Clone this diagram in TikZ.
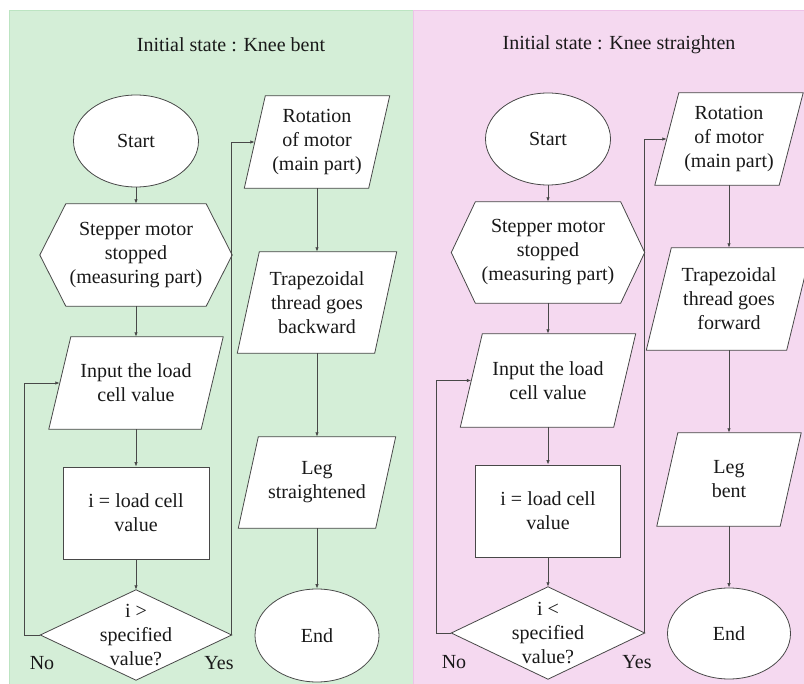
\documentclass[tikz,border=0pt]{standalone}
\usepackage{fontspec}
\setmainfont{Liberation Serif}
\newfontfamily\tnrfont{Liberation Serif}
\usetikzlibrary{shapes.geometric,arrows.meta,backgrounds}
\definecolor{pgreen}{RGB}{212,238,215}
\definecolor{pgreenb}{RGB}{188,228,194}
\definecolor{ppink}{RGB}{245,217,240}
\definecolor{ppinkb}{RGB}{238,194,232}
\definecolor{lnc}{RGB}{72,72,72}
\definecolor{txt}{RGB}{25,25,25}
\tikzset{
  lbl/.style={font=\tnrfont\fontsize{20}{24}\selectfont, text=txt, align=center, inner sep=0pt},
  term/.style={lbl, ellipse, draw=lnc, fill=white, line width=0.8pt},
  proc/.style={lbl, rectangle, draw=lnc, fill=white, line width=0.8pt},
  frame/.style={lbl, rectangle},
  outl/.style={draw=lnc, fill=white, line width=0.8pt, line join=miter},
  conn/.style={draw=lnc, line width=0.8pt, -{Latex[length=4.5pt,width=3.5pt]}},
}
\begin{document}
\begin{tikzpicture}[x=1pt,y=-1pt]
\useasboundingbox (0,0) rectangle (804,684);
\clip (0,0) rectangle (804,684);

% ---------------- left panel ----------------
\node[lbl] (title1) at (231,45) {Initial state : Knee bent};
\node[term, minimum width=125pt, minimum height=92pt] (start1) at (136,141) {Start};
\node[frame, minimum width=192pt, minimum height=102pt] (hex1) at (136,255) {Stepper motor\\stopped\\(measuring part)};
\node[frame, minimum width=174pt, minimum height=92pt] (in1) at (136,383) {Input the load\\cell value};
\node[proc, minimum width=146pt, minimum height=92pt] (rect1) at (136,513) {i = load cell\\value};
\node[frame, minimum width=191pt, minimum height=90pt] (dia1) at (136,635) {i >\\specified\\value?};
\node[frame, minimum width=145pt, minimum height=92pt] (rot1) at (317,142) {Rotation\\of motor\\(main part)};
\node[frame, minimum width=159pt, minimum height=101pt] (trap1) at (317,302.5) {Trapezoidal\\thread goes\\backward};
\node[frame, minimum width=157pt, minimum height=91pt] (leg1) at (317,482.5) {Leg\\straightened};
\node[term, minimum width=124pt, minimum height=93pt] (end1) at (317,635.5) {End};
\node[lbl] (nolbl1) at (42,663) {No};
\node[lbl] (yeslbl1) at (219,663) {Yes};

\coordinate (in1l) at ([xshift=11pt]in1.west);
\coordinate (rot1l) at ([xshift=10.5pt]rot1.west);
\coordinate (no1) at (24,635);

\draw[conn] (start1) -- (hex1);
\draw[conn] (hex1) -- (in1);
\draw[conn] (in1) -- (rect1);
\draw[conn] (rect1) -- (dia1);
\draw[conn] (dia1.west) -- (no1) |- (in1l);
\draw[conn] (dia1.east) |- (rot1l);
\draw[conn] (rot1) -- (trap1);
\draw[conn] (trap1) -- (leg1);
\draw[conn] (leg1) -- (end1);

% ---------------- right panel ----------------
\node[lbl] (title2) at (619,45) {Initial state : Knee straighten};
\node[term, minimum width=125pt, minimum height=92pt] (start2) at (548,139) {Start};
\node[frame, minimum width=193pt, minimum height=101pt] (hex2) at (548,252.5) {Stepper motor\\stopped\\(measuring part)};
\node[frame, minimum width=175pt, minimum height=93pt] (in2) at (548,380.5) {Input the load\\cell value};
\node[proc, minimum width=145pt, minimum height=92pt] (rect2) at (548,511) {i = load cell\\value};
\node[frame, minimum width=193pt, minimum height=92pt] (dia2) at (548,633) {i <\\specified\\value?};
\node[frame, minimum width=148pt, minimum height=92pt] (rot2) at (729,139) {Rotation\\of motor\\(main part)};
\node[frame, minimum width=165pt, minimum height=102pt] (trap2) at (729,299) {Trapezoidal\\thread goes\\forward};
\node[frame, minimum width=144pt, minimum height=93pt] (leg2) at (729,479.5) {Leg\\bent};
\node[term, minimum width=123pt, minimum height=91pt] (end2) at (729,633.5) {End};
\node[lbl] (nolbl2) at (454,662) {No};
\node[lbl] (yeslbl2) at (637,662) {Yes};

\coordinate (in2l) at ([xshift=11pt]in2.west);
\coordinate (rot2l) at ([xshift=12pt]rot2.west);
\coordinate (no2) at (436,633);

\draw[conn] (start2) -- (hex2);
\draw[conn] (hex2) -- (in2);
\draw[conn] (in2) -- (rect2);
\draw[conn] (rect2) -- (dia2);
\draw[conn] (dia2.west) -- (no2) |- (in2l);
\draw[conn] (dia2.east) |- (rot2l);
\draw[conn] (rot2) -- (trap2);
\draw[conn] (trap2) -- (leg2);
\draw[conn] (leg2) -- (end2);

% ---------------- background: panels and outlines ----------------
\begin{scope}[on background layer]
  \fill[pgreen] (9,10) rectangle (413,684);
  \draw[pgreenb, line width=1pt] (9.5,684) -- (9.5,10.5) -- (413,10.5);
  \fill[ppink] (413,10) rectangle (804,684);
  \draw[ppinkb, line width=1pt] (413,10.5) -- (804,10.5);
  \draw[ppinkb, line width=0.6pt] (413.3,10) -- (413.3,684);

  % hexagons
  \draw[outl] (hex1.west) -- ([xshift=26pt]hex1.north west) -- ([xshift=-26pt]hex1.north east)
     -- (hex1.east) -- ([xshift=-26pt]hex1.south east) -- ([xshift=26pt]hex1.south west) -- cycle;
  \draw[outl] (hex2.west) -- ([xshift=24pt]hex2.north west) -- ([xshift=-24pt]hex2.north east)
     -- (hex2.east) -- ([xshift=-24pt]hex2.south east) -- ([xshift=24pt]hex2.south west) -- cycle;
  % diamonds
  \draw[outl] (dia1.north) -- (dia1.east) -- (dia1.south) -- (dia1.west) -- cycle;
  \draw[outl] (dia2.north) -- (dia2.east) -- (dia2.south) -- (dia2.west) -- cycle;
  % parallelograms
  \draw[outl] (in1.south west) -- ([xshift=-22pt]in1.south east) -- (in1.north east) -- ([xshift=22pt]in1.north west) -- cycle;
  \draw[outl] (rot1.south west) -- ([xshift=-21pt]rot1.south east) -- (rot1.north east) -- ([xshift=21pt]rot1.north west) -- cycle;
  \draw[outl] (trap1.south west) -- ([xshift=-22pt]trap1.south east) -- (trap1.north east) -- ([xshift=22pt]trap1.north west) -- cycle;
  \draw[outl] (leg1.south west) -- ([xshift=-20pt]leg1.south east) -- (leg1.north east) -- ([xshift=20pt]leg1.north west) -- cycle;
  \draw[outl] (in2.south west) -- ([xshift=-22pt]in2.south east) -- (in2.north east) -- ([xshift=22pt]in2.north west) -- cycle;
  \draw[outl] (rot2.south west) -- ([xshift=-24pt]rot2.south east) -- (rot2.north east) -- ([xshift=24pt]rot2.north west) -- cycle;
  \draw[outl] (trap2.south west) -- ([xshift=-25pt]trap2.south east) -- (trap2.north east) -- ([xshift=25pt]trap2.north west) -- cycle;
  \draw[outl] (leg2.south west) -- ([xshift=-21pt]leg2.south east) -- (leg2.north east) -- ([xshift=21pt]leg2.north west) -- cycle;
\end{scope}
\end{tikzpicture}
\end{document}
